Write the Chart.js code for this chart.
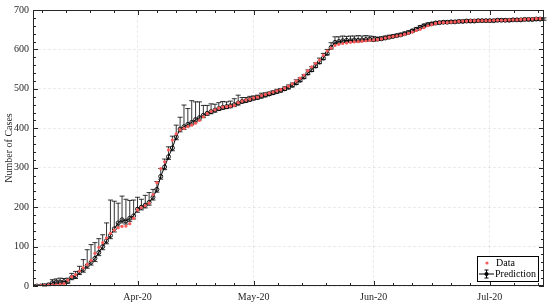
<!DOCTYPE html>
<html>
<head>
<meta charset="utf-8">
<script src="https://cdn.jsdelivr.net/npm/chart.js@4"></script>
<style>
  html, body { margin: 0; padding: 0; background: #fff; }
  #wrap { width: 550px; height: 303px; position: relative; }
</style>
</head>
<body>
<div id="wrap"><canvas id="chart"></canvas></div>
<script>
// day 0 = 5 Mar 2020, one value per day up to 15 Jul 2020
const cases = [
    0, 0, 1, 1, 2, 2, 3, 4, 6, 15,
    24, 29, 38, 46, 55, 65, 83, 98, 110, 122,
    134, 142, 148, 151, 152, 158, 172, 193, 199, 204,
    210, 232, 262, 298, 315, 345, 370, 386, 396, 400,
    404, 408, 413, 420, 429, 437, 443, 447, 451, 454,
    455, 456, 458, 465, 469, 472, 474, 477, 479, 483,
    486, 489, 492, 495, 498, 502, 507, 513, 520, 527,
    535, 546, 556, 565, 573, 585, 596, 603, 610, 613,
    615, 616, 618, 619, 620, 621, 622, 623, 624, 625,
    627, 629, 631, 633, 634, 636, 638, 641, 644, 648,
    651, 655, 660, 663, 666, 668, 668, 668, 669, 670,
    671, 672, 672, 673, 673, 673, 673, 673, 673, 674,
    674, 674, 674, 675, 675, 675, 676, 676, 677, 677,
    678, 678, 678
];
const predicted = [
    0, 0, 0, 1, 3, 8, 10, 10, 11, 12,
    22, 25, 35, 42, 52, 60, 70, 85, 100, 115,
    128, 145, 160, 168, 165, 172, 178, 195, 200, 205,
    212, 225, 245, 278, 302, 328, 350, 378, 398, 404,
    410, 415, 422, 427, 433, 438, 442, 446, 450, 453,
    455, 457, 460, 464, 468, 470, 473, 476, 478, 481,
    484, 487, 490, 493, 496, 500, 504, 509, 515, 522,
    530, 540, 548, 558, 568, 578, 590, 605, 618, 620,
    622, 623, 622, 624, 623, 624, 625, 626, 625, 626,
    627, 629, 631, 633, 635, 637, 640, 643, 647, 651,
    656, 660, 663, 665, 667, 668, 669, 669, 670, 670,
    671, 671, 672, 672, 672, 673, 673, 673, 673, 673,
    674, 674, 674, 674, 675, 675, 675, 676, 676, 676,
    677, 677, 677
];
const errUp = [
    0, 0, 0, 1, 2, 8, 8, 10, 8, 8,
    10, 12, 15, 25, 40, 45, 40, 35, 30, 45,
    90, 70, 50, 60, 55, 45, 40, 30, 20, 25,
    25, 20, 20, 20, 20, 25, 30, 30, 30, 55,
    40, 55, 45, 40, 25, 20, 20, 15, 15, 15,
    12, 12, 15, 20, 10, 8, 8, 6, 6, 8,
    6, 5, 5, 6, 5, 5, 6, 6, 8, 6,
    6, 8, 8, 8, 10, 12, 10, 12, 14, 12,
    12, 10, 12, 10, 12, 10, 10, 8, 8, 5,
    5, 5, 5, 4, 4, 4, 4, 4, 4, 4,
    4, 4, 4, 3, 3, 3, 3, 3, 3, 3,
    3, 3, 3, 3, 3, 3, 3, 3, 3, 3,
    3, 3, 3, 3, 3, 3, 3, 3, 3, 3,
    3, 3, 3
];
const errLow = [
    0, 0, 0, 1, 2, 4, 4, 5, 5, 5,
    6, 6, 6, 7, 7, 7, 8, 8, 8, 8,
    8, 8, 8, 8, 8, 8, 8, 8, 7, 7,
    7, 7, 7, 7, 7, 7, 7, 7, 7, 7,
    6, 6, 6, 6, 6, 5, 5, 5, 5, 5,
    5, 5, 5, 5, 4, 4, 4, 4, 4, 4,
    4, 4, 4, 4, 4, 4, 4, 4, 4, 4,
    4, 4, 4, 4, 4, 4, 4, 4, 4, 4,
    4, 4, 4, 4, 4, 4, 4, 4, 4, 3,
    3, 3, 3, 3, 3, 3, 3, 3, 3, 3,
    3, 3, 3, 3, 3, 3, 3, 3, 3, 3,
    3, 3, 3, 3, 3, 3, 3, 3, 3, 3,
    3, 3, 3, 3, 3, 3, 3, 3, 3, 3,
    3, 3, 3
];

// month starts as day offsets from 5 Mar (1 Mar .. 1 Aug)
const monthStarts = [-4, 27, 57, 88, 118, 149];
const monthLabels = ['Apr-20', 'May-20', 'Jun-20', 'Jul-20'];
const labelDays = [27, 57, 88, 118];

const FONT = 'Liberation Serif, Times New Roman, serif';
const AXIS = '#262626';
const RED = '#ff5a5a';

const points = (arr) => arr.map((v, i) => ({ x: i, y: v }));

// minor ticks: 31-day months split in 5, 30-day months in 6
const minorTicks = [];
for (let m = 0; m < monthStarts.length - 1; m++) {
    const len = monthStarts[m + 1] - monthStarts[m];
    const n = len === 31 ? 5 : 6;
    for (let k = 1; k < n; k++) minorTicks.push(monthStarts[m] + k * len / n);
}

const errorBars = {
    id: 'errorBars',
    beforeDatasetsDraw(chart) {
        const { ctx, scales: { x, y } } = chart;
        ctx.save();
        ctx.strokeStyle = '#000';
        ctx.lineWidth = 0.8;
        predicted.forEach((v, i) => {
            if (!errUp[i] && !errLow[i]) return;
            const px = x.getPixelForValue(i);
            const top = y.getPixelForValue(v + errUp[i]);
            const bot = y.getPixelForValue(Math.max(0, v - errLow[i]));
            ctx.beginPath();
            ctx.moveTo(px, top); ctx.lineTo(px, bot);
            ctx.moveTo(px - 2.5, top); ctx.lineTo(px + 2.5, top);
            ctx.moveTo(px - 2.5, bot); ctx.lineTo(px + 2.5, bot);
            ctx.stroke();
        });
        ctx.restore();
    }
};

const frame = {
    id: 'frame',
    afterDraw(chart) {
        const { ctx, chartArea: a, scales: { x, y } } = chart;
        ctx.save();
        ctx.strokeStyle = AXIS;
        ctx.lineWidth = 1;
        ctx.strokeRect(a.left + 0.5, a.top + 0.5, a.right - a.left - 1, a.bottom - a.top - 1);

        ctx.beginPath();
        // x ticks, inside, bottom and top
        const xt = (d, len) => {
            if (d < x.min || d > x.max) return;
            const px = Math.round(x.getPixelForValue(d)) + 0.5;
            ctx.moveTo(px, a.bottom); ctx.lineTo(px, a.bottom - len);
            ctx.moveTo(px, a.top); ctx.lineTo(px, a.top + len);
        };
        labelDays.forEach(d => xt(d, 5));
        minorTicks.forEach(d => xt(d, 3));
        // y ticks, inside, left and right
        for (let v = 0; v <= 700; v += 20) {
            const len = v % 100 === 0 ? 5 : 3;
            const py = Math.round(y.getPixelForValue(v)) + 0.5;
            ctx.moveTo(a.left, py); ctx.lineTo(a.left + len, py);
            ctx.moveTo(a.right, py); ctx.lineTo(a.right - len, py);
        }
        ctx.stroke();

        // legend box
        const lx = a.right - 67, ly = a.bottom - 30, lw = 61, lh = 25;
        ctx.fillStyle = '#fff';
        ctx.fillRect(lx, ly, lw, lh);
        ctx.strokeStyle = '#000';
        ctx.lineWidth = 1;
        ctx.strokeRect(lx + 0.5, ly + 0.5, lw, lh);

        ctx.fillStyle = RED;
        ctx.beginPath();
        ctx.arc(lx + 10, ly + 7, 1.6, 0, Math.PI * 2);
        ctx.fill();

        const my = ly + 18;
        ctx.strokeStyle = '#000';
        ctx.lineWidth = 1;
        ctx.beginPath();
        ctx.moveTo(lx + 2, my); ctx.lineTo(lx + 17, my);
        ctx.moveTo(lx + 9.5, my - 4); ctx.lineTo(lx + 9.5, my + 4);
        ctx.moveTo(lx + 7.5, my - 4); ctx.lineTo(lx + 11.5, my - 4);
        ctx.moveTo(lx + 7.5, my + 4); ctx.lineTo(lx + 11.5, my + 4);
        ctx.stroke();
        ctx.beginPath();
        ctx.arc(lx + 9.5, my, 2, 0, Math.PI * 2);
        ctx.fillStyle = '#000';
        ctx.fill();

        ctx.fillStyle = '#000';
        ctx.font = '10px ' + FONT;
        ctx.textBaseline = 'middle';
        ctx.textAlign = 'left';
        ctx.fillText('Data', lx + 19, ly + 7);
        ctx.fillText('Prediction', lx + 18, my);
        ctx.restore();
    }
};

new Chart(document.getElementById('chart'), {
    type: 'line',
    data: {
        datasets: [
            {
                label: 'Data',
                data: points(cases),
                showLine: false,
                pointRadius: 1.6,
                pointBorderWidth: 0,
                pointBackgroundColor: RED,
                borderColor: RED
            },
            {
                label: 'Prediction',
                data: points(predicted),
                borderColor: '#000',
                borderWidth: 1,
                pointRadius: 2,
                pointBorderWidth: 0.9,
                pointBorderColor: '#000',
                pointBackgroundColor: 'rgba(255,255,255,0)',
                tension: 0
            }
        ]
    },
    options: {
        responsive: true,
        maintainAspectRatio: false,
        animation: false,
        layout: { padding: { top: 10, right: 6, left: 0, bottom: 0 } },
        plugins: {
            legend: { display: false },
            tooltip: { enabled: false }
        },
        scales: {
            x: {
                type: 'linear',
                min: 0,
                max: cases.length - 1,
                afterBuildTicks: (scale) => {
                    scale.ticks = labelDays.map(v => ({ value: v }));
                },
                afterFit: (scale) => { scale.height = 17; },
                grid: { color: 'rgba(0,0,0,0.08)', drawTicks: false },
                border: { display: false, dash: [3, 2] },
                ticks: {
                    autoSkip: false,
                    maxRotation: 0,
                    padding: 5,
                    color: '#262626',
                    font: { family: FONT, size: 10 },
                    callback: (v, i) => monthLabels[i]
                }
            },
            y: {
                min: 0,
                max: 700,
                afterFit: (scale) => { scale.width = 33; },
                grid: { color: 'rgba(0,0,0,0.08)', drawTicks: false },
                border: { display: false, dash: [3, 2] },
                ticks: {
                    stepSize: 100,
                    padding: 4,
                    color: '#262626',
                    font: { family: FONT, size: 10 }
                },
                title: {
                    display: true,
                    text: 'Number of Cases',
                    color: '#262626',
                    padding: { top: 3, bottom: 0 },
                    font: { family: FONT, size: 10 }
                }
            }
        }
    },
    plugins: [errorBars, frame]
});
</script>
</body>
</html>
